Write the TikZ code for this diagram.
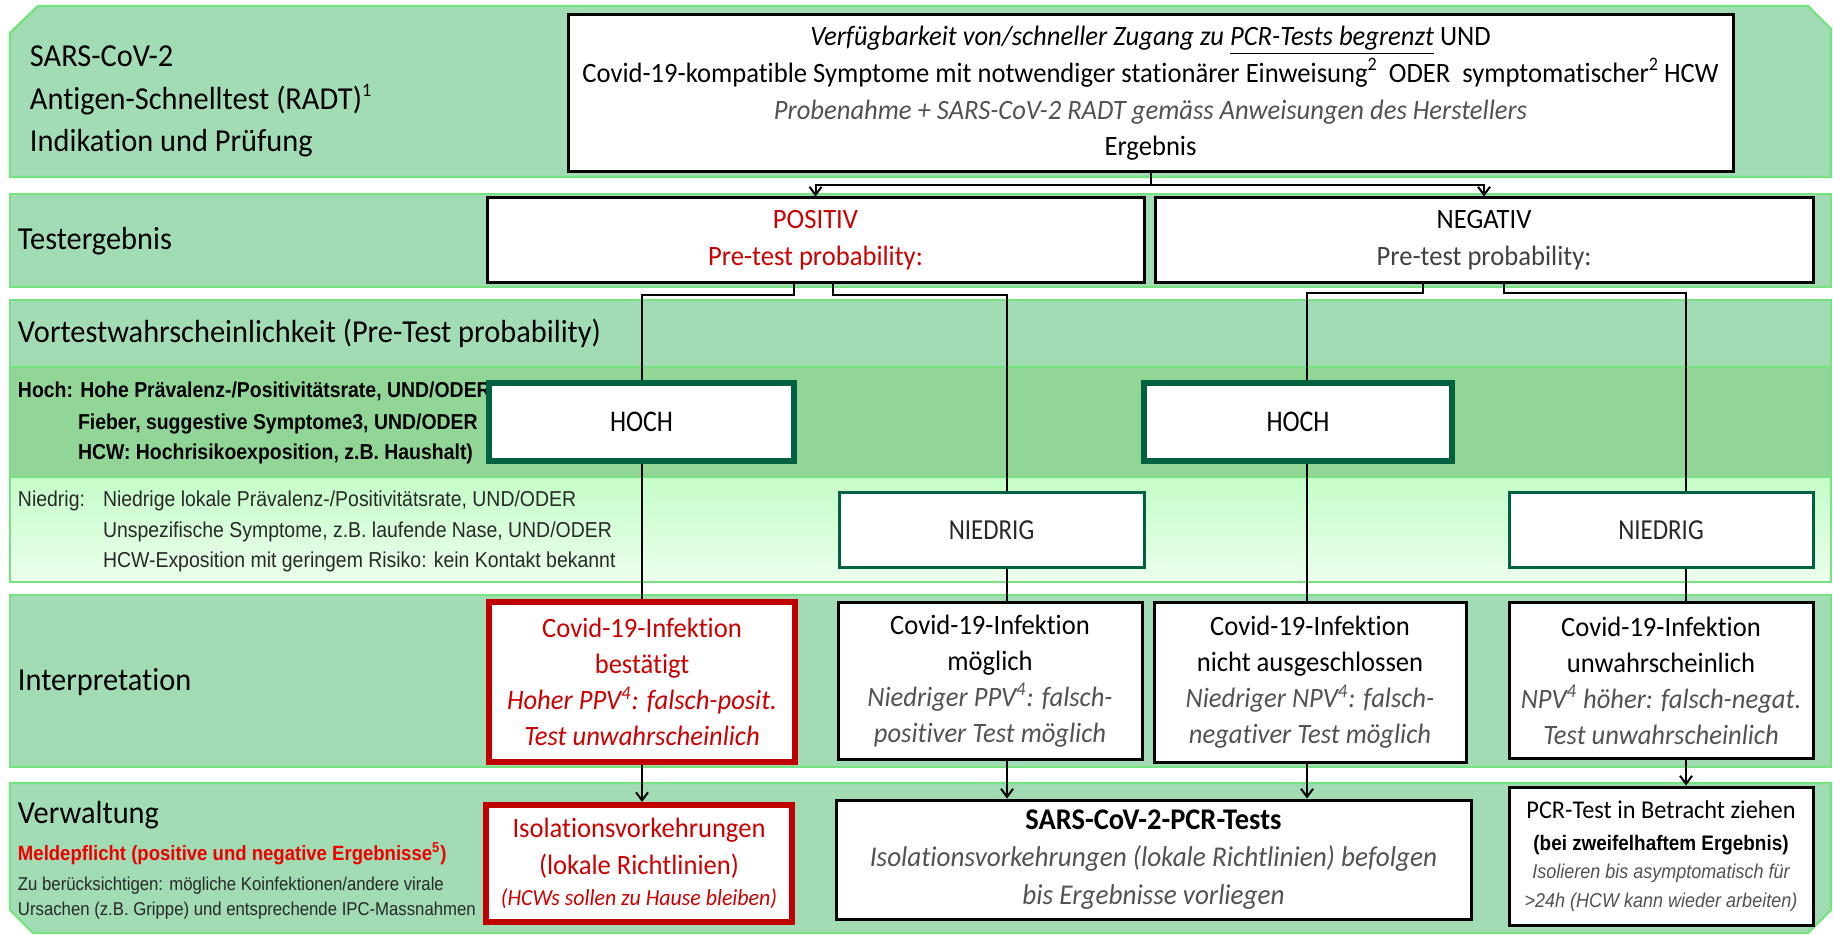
\documentclass[tikz,border=0pt]{standalone}
\usepackage{fontspec}
\setmainfont{Carlito}[FakeStretch=0.95,Ligatures=NoCommon]
\newfontfamily\narrow{Liberation Sans}[FakeStretch=0.9]
\newfontfamily\cond{Carlito}[FakeStretch=0.86,Ligatures=NoCommon]
\usetikzlibrary{arrows.meta}
\definecolor{bandfill}{RGB}{161,220,180}
\definecolor{bandline}{RGB}{118,226,128}
\definecolor{hochband}{RGB}{145,213,151}
\definecolor{niedtop}{RGB}{196,253,200}
\definecolor{niedbot}{RGB}{236,255,236}
\definecolor{dkgreen}{RGB}{0,97,64}
\definecolor{boxred}{RGB}{192,0,0}
\definecolor{redtext}{RGB}{204,0,0}
\definecolor{meldred}{RGB}{238,0,0}
\definecolor{grayt}{RGB}{82,82,82}
\definecolor{grayn}{RGB}{64,64,64}
\definecolor{niedtext}{RGB}{40,40,40}
\newcommand\szTitle{\fontsize{16}{19}\selectfont}
\newcommand\szBox{\fontsize{14}{18.3}\selectfont}
\newcommand\szInt{\fontsize{14}{18}\selectfont}
\newcommand\supr[1]{\raisebox{0.9ex}{\fontsize{9.5}{10}\selectfont #1}}
\begin{document}
\begin{tikzpicture}[x=0.5pt,y=-0.5pt,
  band/.style={fill=bandfill,draw=bandline,line width=1.2pt},
  bline/.style={draw=bandline,line width=1.2pt},
  lbl/.style={anchor=base west,inner sep=0pt,outer sep=0pt},
  blk/.style={draw=black,line width=1.5pt,fill=white,inner sep=0pt,align=center},
  hochb/.style={blk,draw=dkgreen,line width=3pt},
  niedb/.style={blk,draw=dkgreen,line width=1.5pt},
  redb/.style={blk,draw=boxred,line width=3pt},
  conn/.style={draw=black,line width=1pt},
  arr/.style={conn,-{Straight Barb[length=4pt,width=6pt]}}]
\useasboundingbox (0,0) rectangle (1833,935);
\fill[white] (0,0) rectangle (1833,935);
% bands
\path[band] (10,33) -- (38,6) -- (1808,6) -- (1831,29) -- (1831,177) -- (10,177) -- cycle;
\path[band] (10,194) rectangle (1831,287);
\fill[bandfill] (10,300) rectangle (1831,367);
\fill[hochband] (10,367) rectangle (1831,477);
\shade[top color=niedtop,bottom color=niedbot] (10,477) rectangle (1831,582);
\draw[bline] (10,300) rectangle (1831,582);
\draw[bline] (10,367) -- (1831,367);
\draw[bline] (10,477) -- (1831,477);
\path[band] (10,595) rectangle (1831,767);
\path[band] (10,783) -- (1831,783) -- (1831,910) -- (1808,933) -- (33,933) -- (10,910) -- cycle;
% left labels
\node[lbl,font=\szTitle] (t1a) at (30,67) {SARS-CoV-2};
\node[lbl,font=\szTitle] (t1b) at (30,110) {Antigen-Schnelltest (RADT)\supr{1}};
\node[lbl,font=\szTitle] (t1c) at (30,152) {Indikation und Prüfung};
\node[lbl,font=\szTitle] (t2) at (18,250) {Testergebnis};
\node[lbl,font=\szTitle] (t3) at (18,343) {Vortestwahrscheinlichkeit (Pre-Test probability)};
\node[lbl,font=\narrow\bfseries\fontsize{10.8}{12}\selectfont] (h1) at (18,398) {Hoch: Hohe Prävalenz-/Positivitätsrate, UND/ODER};
\node[lbl,font=\narrow\bfseries\fontsize{10.8}{12}\selectfont] (h2) at (78,430) {Fieber, suggestive Symptome3, UND/ODER};
\node[lbl,font=\narrow\bfseries\fontsize{10.8}{12}\selectfont] (h3) at (78,460) {HCW: Hochrisikoexposition, z.B. Haushalt)};
\node[lbl,font=\narrow\fontsize{10.8}{12}\selectfont,text=niedtext] (n0) at (18,507) {Niedrig:};
\node[lbl,font=\narrow\fontsize{10.8}{12}\selectfont,text=niedtext] (n1) at (103,507) {Niedrige lokale Prävalenz-/Positivitätsrate, UND/ODER};
\node[lbl,font=\narrow\fontsize{10.8}{12}\selectfont,text=niedtext] (n2) at (103,538) {Unspezifische Symptome, z.B. laufende Nase, UND/ODER};
\node[lbl,font=\narrow\fontsize{10.8}{12}\selectfont,text=niedtext] (n3) at (103,568) {HCW-Exposition mit geringem Risiko: kein Kontakt bekannt};
\node[lbl,font=\szTitle] (t4) at (18,690) {Interpretation};
\node[lbl,font=\szTitle] (t5) at (18,823) {Verwaltung};
\node[lbl,font=\narrow\bfseries\fontsize{10.3}{12}\selectfont,text=meldred] (m1) at (18,860) {Meldepflicht (positive und negative Ergebnisse\textsuperscript{5})};
\node[lbl,font=\narrow\fontsize{9.3}{11}\selectfont,text=niedtext] (m2) at (18,890) {Zu berücksichtigen: mögliche Koinfektionen/andere virale};
\node[lbl,font=\narrow\fontsize{9.3}{11}\selectfont,text=niedtext] (m3) at (18,915) {Ursachen (z.B. Grippe) und entsprechende IPC-Massnahmen};
% boxes
\node[blk,minimum width=582.5pt,minimum height=78.5pt,font=\szBox] (top) at (1150.5,93.5)
 {{\itshape Verfügbarkeit von/schneller Zugang zu \underline{PCR-Tests begrenzt}} UND\\
  Covid-19-kompatible Symptome mit notwendiger stationärer Einweisung\supr{2}\ \ ODER\ \ symptomatischer\supr{2} HCW\\
  {\itshape\color{grayt}Probenahme + SARS-CoV-2 RADT gemäss Anweisungen des Herstellers}\\
  Ergebnis};
\node[blk,minimum width=328.5pt,minimum height=42.5pt,font=\fontsize{14}{18.5}\selectfont,text=redtext] (pos) at (815.5,240.5)
 {POSITIV\\Pre-test probability:};
\node[blk,minimum width=329pt,minimum height=42.5pt,font=\fontsize{14}{18.5}\selectfont] (neg) at (1484,240.5)
 {NEGATIV\\{\color{grayn}Pre-test probability:}};
\node[hochb,minimum width=152.5pt,minimum height=39pt,font=\cond\fontsize{15}{18}\selectfont] (hoch1) at (641.5,422) {HOCH};
\node[hochb,minimum width=154pt,minimum height=39pt,font=\cond\fontsize{15}{18}\selectfont] (hoch2) at (1298,422) {HOCH};
\node[niedb,minimum width=152.5pt,minimum height=37.5pt,font=\cond\fontsize{14.5}{18}\selectfont,text=niedtext] (nied1) at (991.5,530.5) {NIEDRIG};
\node[niedb,minimum width=152pt,minimum height=37.5pt,font=\cond\fontsize{14.5}{18}\selectfont,text=niedtext] (nied2) at (1661,530.5) {NIEDRIG};
\node[redb,minimum width=153pt,minimum height=80pt,font=\szInt,text=redtext] (int1) at (642,682)
 {Covid-19-Infektion\\bestätigt\\{\itshape Hoher PPV\textsuperscript{4}: falsch-posit.}\\{\itshape Test unwahrscheinlich}};
\node[blk,minimum width=152pt,minimum height=78pt,font=\szInt] (int2) at (990,681)
 {Covid-19-Infektion\\möglich\\{\itshape\color{grayt}Niedriger PPV\textsuperscript{4}: falsch-}\\{\itshape\color{grayt}positiver Test möglich}};
\node[blk,minimum width=156pt,minimum height=79.5pt,font=\szInt] (int3) at (1310,682.5)
 {Covid-19-Infektion\\nicht ausgeschlossen\\{\itshape\color{grayt}Niedriger NPV\textsuperscript{4}: falsch-}\\{\itshape\color{grayt}negativer Test möglich}};
\node[blk,minimum width=152pt,minimum height=77.5pt,font=\szInt] (int4) at (1661,680.5)
 {Covid-19-Infektion\\unwahrscheinlich\\{\itshape\color{grayt}NPV\textsuperscript{4} höher: falsch-negat.}\\{\itshape\color{grayt}Test unwahrscheinlich}};
\node[redb,minimum width=153pt,minimum height=58.5pt,font=\fontsize{14}{18.5}\selectfont,text=redtext] (iso) at (639,863.5)
 {Isolationsvorkehrungen\\(lokale Richtlinien)\\[-3pt]{\itshape\fontsize{11.5}{14}\selectfont (HCWs sollen zu Hause bleiben)}};
\node[blk,minimum width=317.5pt,minimum height=59.5pt,font=\fontsize{14.3}{18.7}\selectfont] (pcr) at (1153.5,859.5)
 {{\bfseries\fontsize{15}{18}\selectfont SARS-CoV-2-PCR-Tests}\\{\itshape\color{grayt}Isolationsvorkehrungen (lokale Richtlinien) befolgen}\\{\itshape\color{grayt}bis Ergebnisse vorliegen}};
\node[blk,minimum width=152pt,minimum height=69pt,font=\narrow\fontsize{10.5}{14.3}\selectfont] (rbox) at (1661,856)
 {{\rmfamily\fontsize{12.8}{14}\selectfont PCR-Test in Betracht ziehen}\\[1.5pt]{\bfseries (bei zweifelhaftem Ergebnis)}\\{\itshape\color{grayt}\fontsize{10}{12}\selectfont Isolieren bis asymptomatisch für}\\{\itshape\color{grayt}\fontsize{10}{12}\selectfont >24h (HCW kann wieder arbeiten)}};
% junction coordinates
\coordinate (tj) at (1151,185);
\coordinate (pL) at (794,295);
\coordinate (pR) at (833,295);
\coordinate (pRx) at (1007,295);
\coordinate (nL) at (1423,293);
\coordinate (nLx) at (1307,293);
\coordinate (nR) at (1504,293);
\coordinate (nRx) at (1686,293);
\coordinate (hx) at (642,300);
% connectors
\draw[arr] (top.south -| tj) -- (tj) -| (pos.north);
\draw[arr] (tj) -| (neg.north);
\draw[conn] (pos.south -| pL) -- (pL) -| (hoch1.north);
\draw[conn] (pos.south -| pR) -- (pR) -- (pRx) -- (nied1.north -| pRx);
\draw[conn] (neg.south -| nL) -- (nL) -- (nLx) -- (hoch2.north -| nLx);
\draw[conn] (neg.south -| nR) -- (nR) -- (nRx) -- (nied2.north -| nRx);
\draw[conn] (hoch1.south -| hx) -- (int1.north -| hx);
\draw[conn] (nied1.south -| pRx) -- (int2.north -| pRx);
\draw[conn] (hoch2.south -| nLx) -- (int3.north -| nLx);
\draw[conn] (nied2.south -| nRx) -- (int4.north -| nRx);
\draw[arr] (int1.south -| hx) -- (iso.north -| hx);
\draw[arr] (int2.south -| pRx) -- (pcr.north -| pRx);
\draw[arr] (int3.south -| nLx) -- (pcr.north -| nLx);
\draw[arr] (int4.south -| nRx) -- (rbox.north -| nRx);
\end{tikzpicture}
\end{document}
